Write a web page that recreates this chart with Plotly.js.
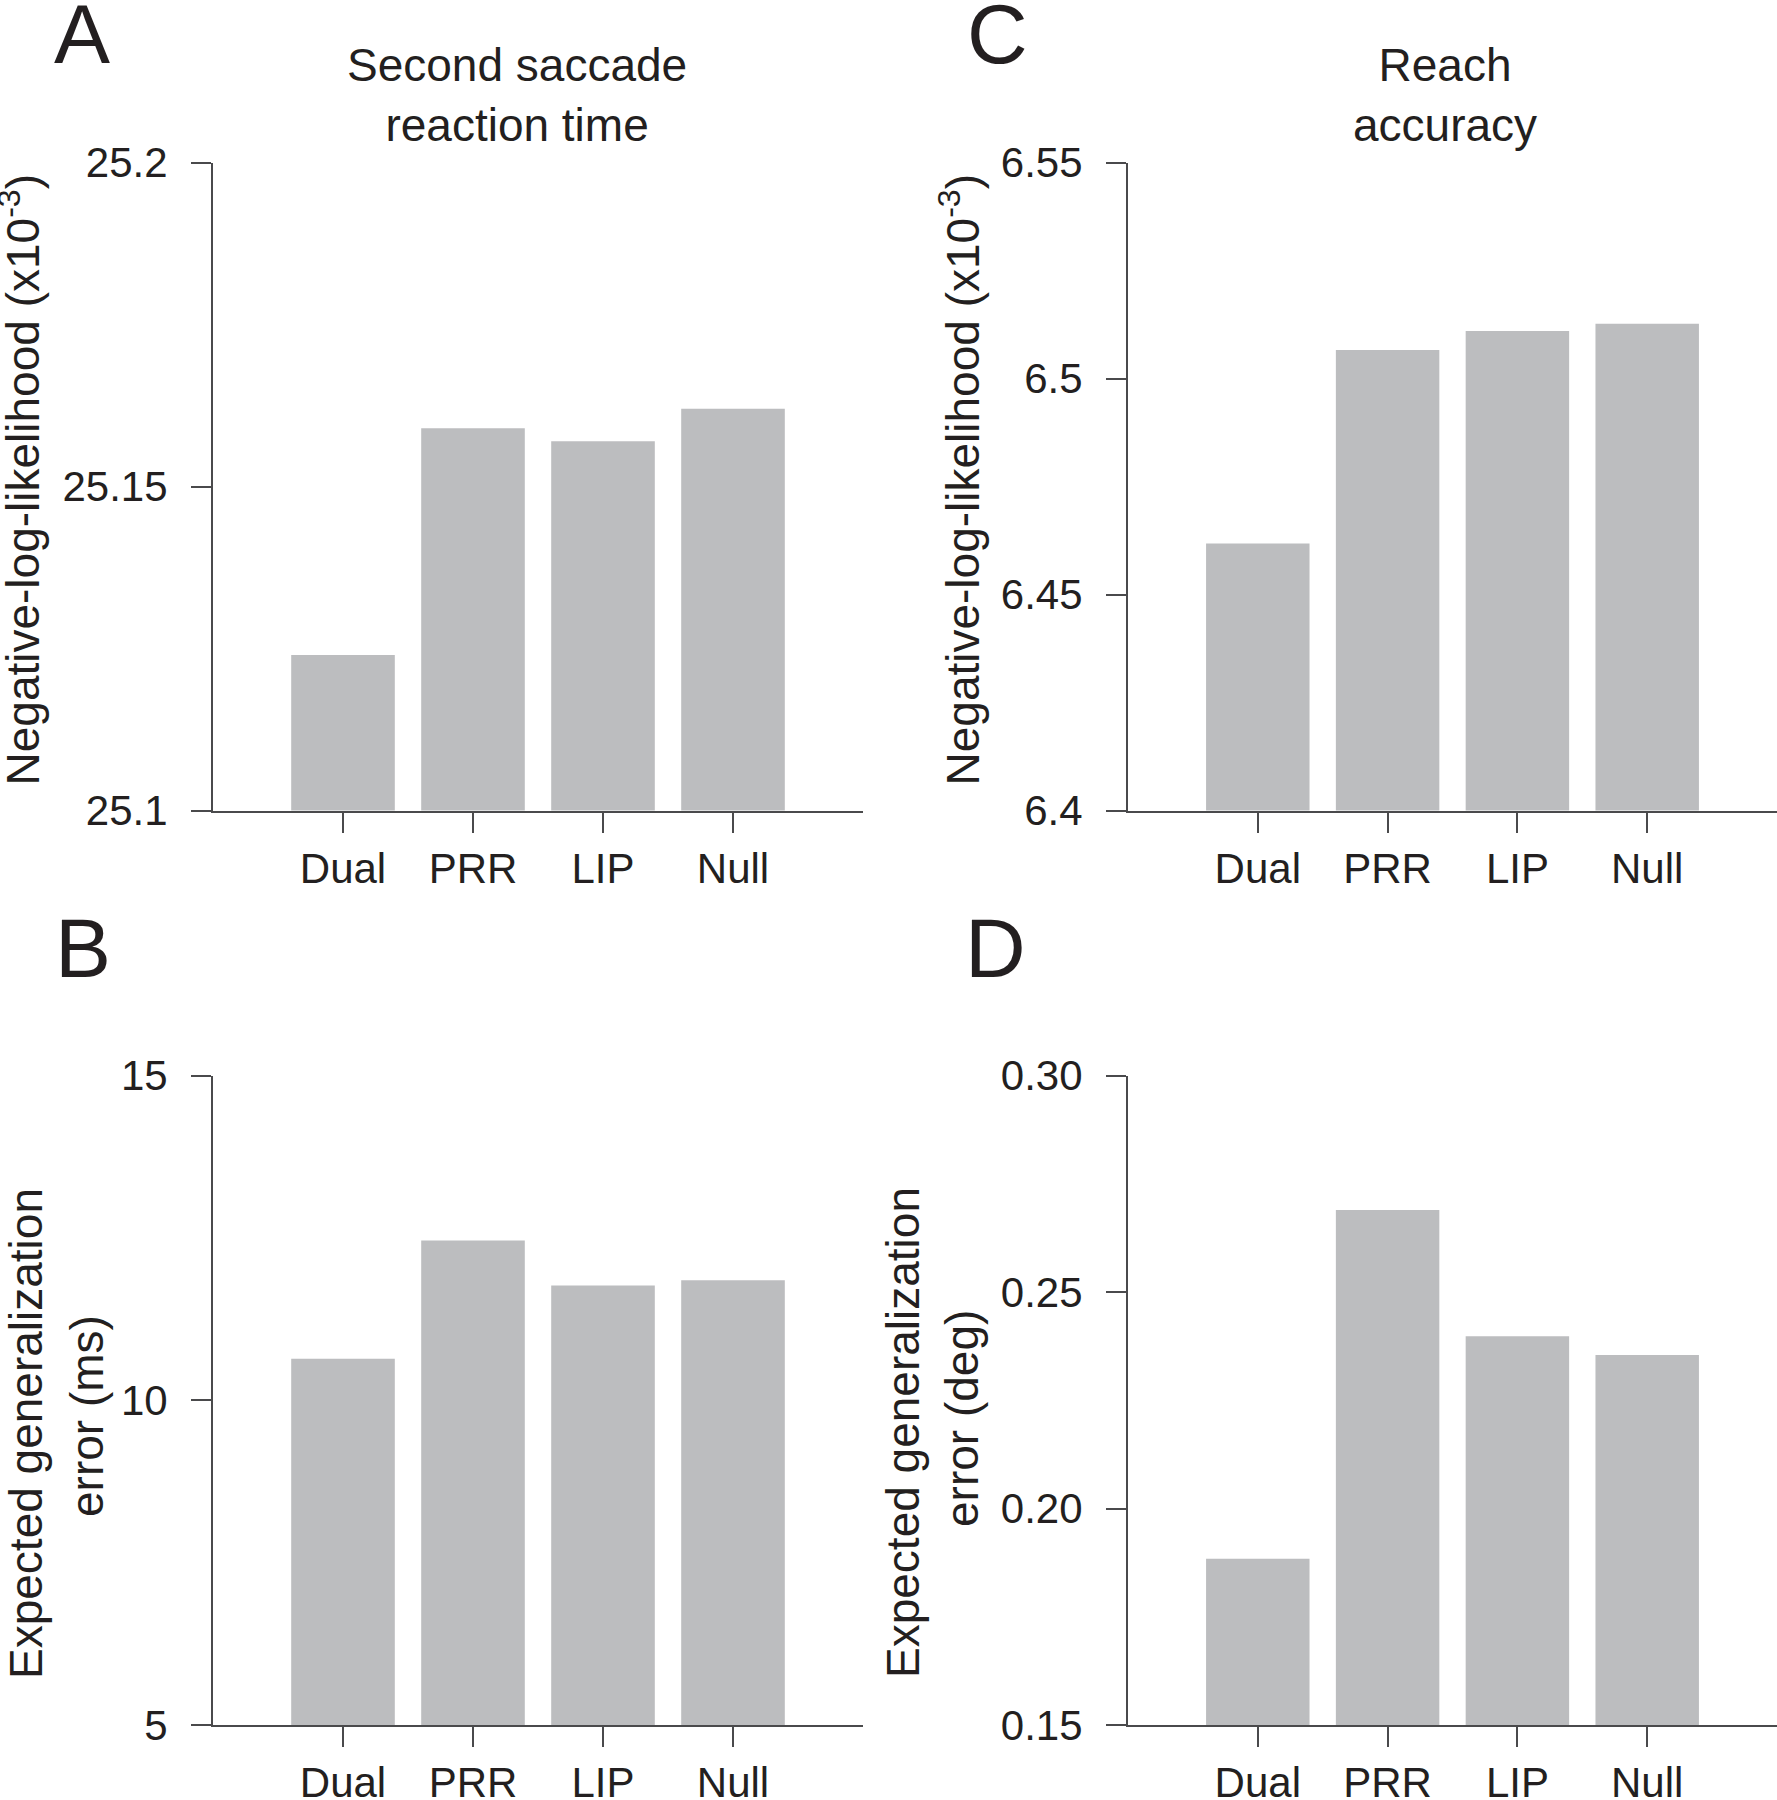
<!DOCTYPE html>
<html><head><meta charset="utf-8">
<script src="https://cdn.plot.ly/plotly-3.0.1.min.js"></script>
<style>html,body{margin:0;padding:0;background:#fff}</style>
</head><body><div id="chart" style="width:1777px;height:1800px"></div>
<script>
// ---- data ----
const categories = ["Dual", "PRR", "LIP", "Null"];
const nllSaccade = [25.124, 25.159, 25.157, 25.162];   // panel A
const errSaccade = [10.64, 12.46, 11.77, 11.85];        // panel B
const nllReach   = [6.4618, 6.5066, 6.5110, 6.5127];    // panel C
const errReach   = [0.1884, 0.2690, 0.2398, 0.2355];    // panel D
const ticksA = [25.1, 25.15, 25.2];      const labelsA = ["25.1", "25.15", "25.2"];
const ticksB = [5, 10, 15];              const labelsB = ["5", "10", "15"];
const ticksC = [6.4, 6.45, 6.5, 6.55];   const labelsC = ["6.4", "6.45", "6.5", "6.55"];
const ticksD = [0.15, 0.2, 0.25, 0.3];   const labelsD = ["0.15", "0.20", "0.25", "0.30"];

// ---- style ----
const W = 1777, H = 1800;
const FONT = "Liberation Sans, Arial, Helvetica, sans-serif";
const TXT = "#231f20";
const BAR = "#bcbdbf";
const AX = "#4a4a4c";
const px = x => x / W;
const py = y => 1 - y / H;

function bar(y, xa, ya) {
  return {type: "bar", x: categories, y: y, xaxis: xa, yaxis: ya,
          marker: {color: BAR, line: {width: 0}}, hoverinfo: "x+y", showlegend: false};
}
const data = [
  bar(nllSaccade, "x", "y"),
  bar(nllReach, "x2", "y2"),
  bar(errSaccade, "x3", "y3"),
  bar(errReach, "x4", "y4")
];

function xax(domain, anchor) {
  return {domain: domain, anchor: anchor, type: "category", range: [-1, 4],
          showline: true, linecolor: AX, linewidth: 2, ticks: "outside", ticklen: 20,
          tickwidth: 2, tickcolor: AX, showgrid: false, zeroline: false,
          tickfont: {family: FONT, size: 42, color: TXT}, ticklabelstandoff: 0, fixedrange: true};
}
function yax(domain, anchor, range, vals, text) {
  return {domain: domain, anchor: anchor, range: range, tickvals: vals, ticktext: text,
          showline: true, linecolor: AX, linewidth: 2, ticks: "outside", ticklen: 20,
          tickwidth: 2, tickcolor: AX, showgrid: false, zeroline: false,
          tickfont: {family: FONT, size: 42, color: TXT}, ticklabelstandoff: 15, fixedrange: true};
}
const xL = [213 / W, 863 / W], xR = [1128 / W, 1];
const yT = [py(810.5), py(162.5)], yB = [py(1725), py(1075.7)];

function ann(text, x, y, size, angle) {
  return {text: text, x: px(x), y: py(y), xref: "paper", yref: "paper",
          xanchor: "center", yanchor: "middle", showarrow: false, textangle: angle || 0,
          align: "center", font: {family: FONT, size: size, color: TXT}};
}

const layout = {
  width: W, height: H, margin: {l: 0, r: 0, t: 0, b: 0},
  paper_bgcolor: "#fff", plot_bgcolor: "rgba(0,0,0,0)", bargap: 0.203,
  xaxis: xax(xL, "y"), yaxis: yax(yT, "x", [25.1, 25.2], ticksA, labelsA),
  xaxis2: xax(xR, "y2"), yaxis2: yax(yT, "x2", [6.4, 6.55], ticksC, labelsC),
  xaxis3: xax(xL, "y3"), yaxis3: yax(yB, "x3", [5, 15], ticksB, labelsB),
  xaxis4: xax(xR, "y4"), yaxis4: yax(yB, "x4", [0.15, 0.3], ticksD, labelsD),
  annotations: [
    ann("A", 82, 34, 84), ann("C", 997, 34, 84),
    ann("B", 82.5, 947.5, 84), ann("D", 995, 947.5, 84),
    ann("Second saccade<br>reaction time", 517, 95, 46),
    ann("Reach<br>accuracy", 1445, 95, 46),
    ann("Negative-log-likelihood (x10<sup>-3</sup>)", 19, 479.5, 46, -90),
    ann("Negative-log-likelihood (x10<sup>-3</sup>)", 959, 479.5, 46, -90),
    ann("Expected generalization", 26, 1434, 46, -90),
    ann("error (ms)", 87, 1416, 46, -90),
    ann("Expected generalization", 903, 1433, 46, -90),
    ann("error (deg)", 962, 1418, 46, -90)
  ]
};
Plotly.newPlot("chart", data, layout, {staticPlot: true, displayModeBar: false});
</script></body></html>
